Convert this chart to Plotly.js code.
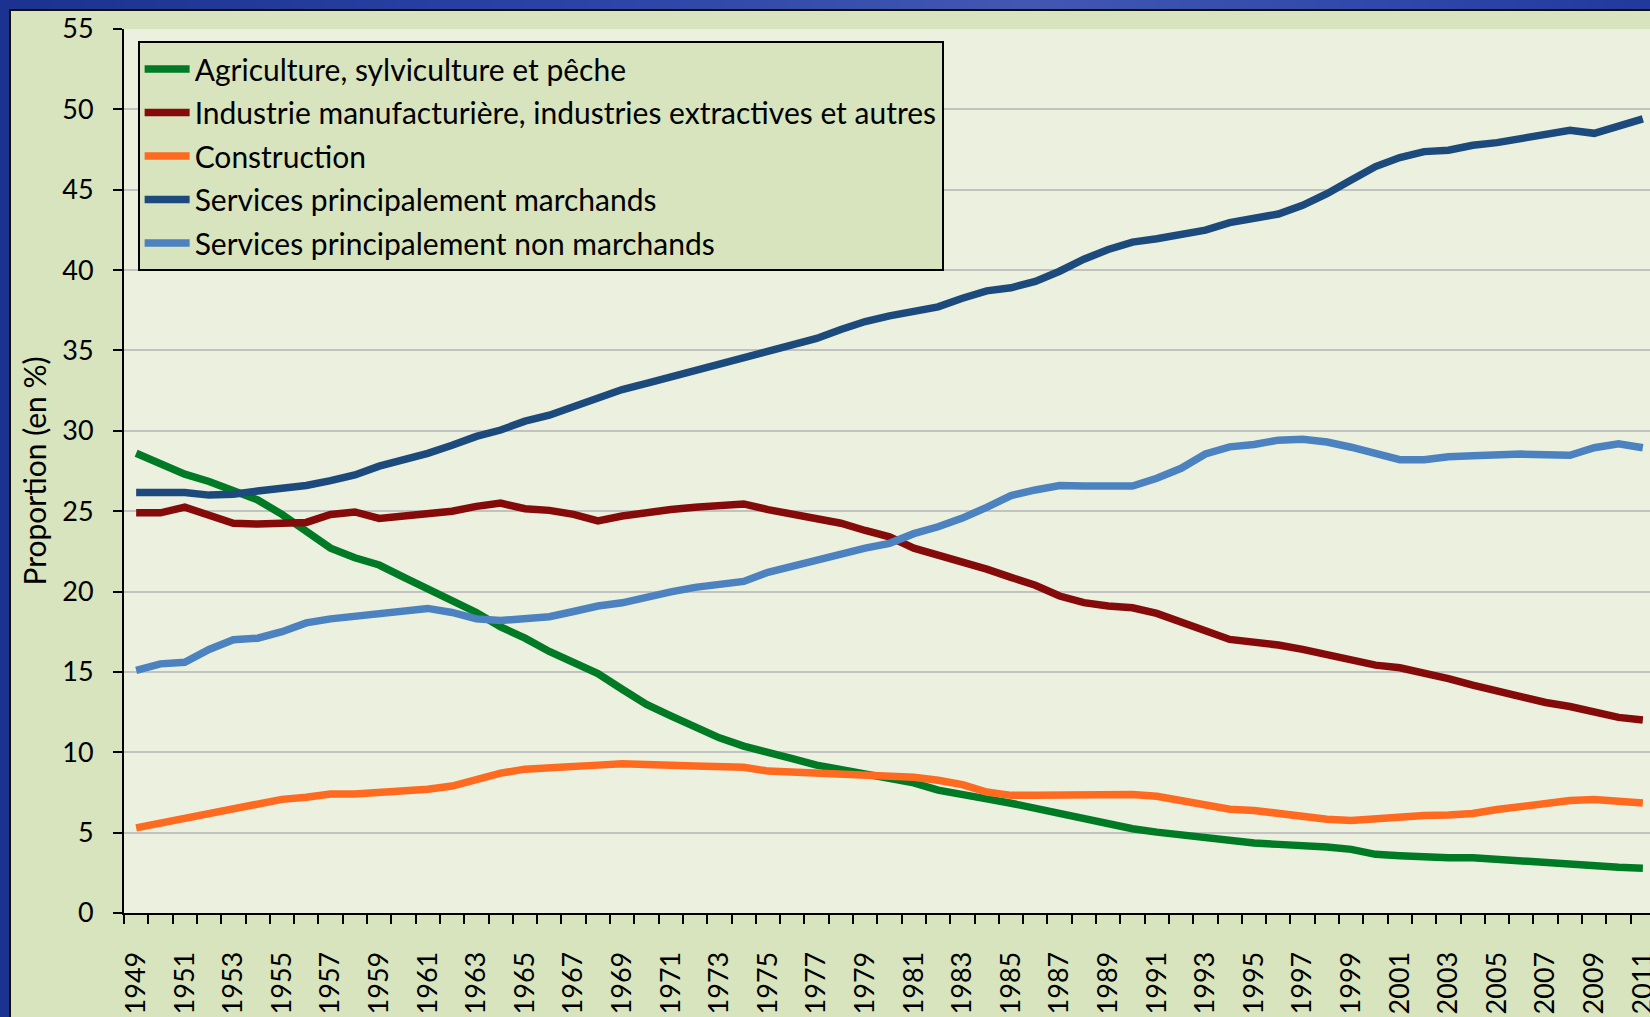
<!DOCTYPE html>
<html>
<head>
<meta charset="utf-8">
<script src="https://cdn.plot.ly/plotly-3.0.1.min.js"></script>
<style>
  html, body { margin: 0; padding: 0; width: 1650px; height: 1017px; overflow: hidden; }
  body { background: linear-gradient(90deg, #1c3290 0%, #2a43a5 35%, #4257b2 62%, #2e47a9 85%, #22399c 100%); position: relative; }
  #frame { position: absolute; left: 9px; top: 9px; border-top: 2px solid #101010; border-left: 2px solid #101010; background: #D7E4BD; width: 1660px; height: 1020px; }
  #chart { width: 1654px; height: 1006px; }
</style>
</head>
<body>
<div id="frame"><div id="chart"></div></div>
<script>
const years = [1949,1950,1951,1952,1953,1954,1955,1956,1957,1958,1959,1960,1961,1962,1963,1964,1965,1966,1967,1968,1969,1970,1971,1972,1973,1974,1975,1976,1977,1978,1979,1980,1981,1982,1983,1984,1985,1986,1987,1988,1989,1990,1991,1992,1993,1994,1995,1996,1997,1998,1999,2000,2001,2002,2003,2004,2005,2006,2007,2008,2009,2010,2011];

const tickYears = [1949,1951,1953,1955,1957,1959,1961,1963,1965,1967,1969,1971,1973,1975,1977,1979,1981,1983,1985,1987,1989,1991,1993,1995,1997,1999,2001,2003,2005,2007,2009,2011];
const tickLabels = ["1949","1951","1953","1955","1957","1959","1961","1963","1965","1967","1969","1971","1973","1975","1977","1979","1981","1983","1985","1987","1989","1991","1993","1995","1997","1999","2001","2003","2005","2007","2009","2011"];

const agriculture = [28.6,28.0,27.3,26.85,26.3,25.7,24.8,23.7,22.7,22.1,21.65,20.9,20.2,19.5,18.7,17.8,17.1,16.27,15.58,14.9,13.92,12.98,12.26,11.53,10.9,10.38,10.03,9.6,9.2,8.93,8.62,8.37,8.1,7.64,7.32,7.1,6.83,6.51,6.19,5.84,5.49,5.24,5.03,4.84,4.68,4.49,4.35,4.27,4.22,4.1,3.96,3.65,3.56,3.47,3.44,3.44,3.34,3.19,3.07,2.97,2.94,2.85,2.79];

const industrie = [24.9,24.9,25.25,24.75,24.25,24.2,24.2,24.3,24.8,24.95,24.55,24.7,24.8,25.0,25.3,25.5,25.15,25.05,24.8,24.4,24.7,24.95,25.1,25.25,25.4,25.45,25.1,24.85,24.6,24.25,23.8,23.4,22.7,22.28,21.93,21.39,20.88,20.39,19.72,19.31,19.1,18.99,18.64,18.15,17.56,17.02,16.89,16.67,16.4,16.1,15.7,15.42,15.26,14.95,14.58,14.18,13.81,13.41,13.1,12.85,12.54,12.17,12.01];

const construction = [5.3,5.6,5.85,6.2,6.45,6.8,7.07,7.2,7.4,7.4,7.5,7.55,7.7,7.9,8.3,8.7,8.95,9.07,9.14,9.2,9.28,9.28,9.2,9.14,9.14,9.07,8.83,8.76,8.72,8.57,8.5,8.5,8.45,8.26,7.99,7.53,7.32,7.32,7.32,7.37,7.4,7.37,7.26,6.97,6.64,6.46,6.38,6.19,5.97,5.84,5.76,5.88,5.98,6.07,6.1,6.19,6.44,6.66,6.84,7.0,7.06,6.9,6.84];

const servMarchands = [26.16,26.16,26.16,26.0,26.05,26.25,26.4,26.6,26.9,27.25,27.8,28.15,28.6,29.1,29.65,30.05,30.6,30.97,31.5,32.15,32.57,32.95,33.35,33.77,34.2,34.6,34.96,35.37,35.75,36.3,36.8,37.15,37.45,37.71,38.25,38.71,38.9,39.3,39.93,40.68,41.28,41.74,41.95,42.27,42.49,42.95,43.22,43.49,44.03,44.75,45.6,46.44,47.0,47.37,47.46,47.77,47.93,48.2,48.48,48.7,48.51,48.95,49.41];

const servNonMarchands = [15.1,15.5,15.6,16.4,17.0,17.1,17.5,18.05,18.3,18.45,18.6,18.8,18.95,18.7,18.3,18.2,18.3,18.43,18.76,19.1,19.3,19.67,19.98,20.26,20.43,20.63,21.2,21.6,21.9,22.3,22.7,23.0,23.6,24.03,24.57,25.24,25.97,26.32,26.6,26.56,26.56,26.56,27.05,27.67,28.56,29.0,29.15,29.42,29.47,29.3,28.98,28.58,28.2,28.2,28.39,28.45,28.55,28.55,28.51,28.48,28.95,29.2,28.95];

const seriesNames = [
  "Agriculture, sylviculture et pêche",
  "Industrie manufacturière, industries extractives et autres",
  "Construction",
  "Services principalement marchands",
  "Services principalement non marchands"
];
const seriesValues = [agriculture, industrie, construction, servMarchands, servNonMarchands];
const seriesColors = ["#007a25", "#850b0b", "#ff6a21", "#1d4a7d", "#4c82bf"];

const FONT = "Lato, 'Open Sans', sans-serif";

const traces = seriesValues.map((vals, i) => ({
  type: "scatter",
  mode: "lines",
  x: years,
  y: vals,
  name: seriesNames[i],
  legendgroup: "g" + i,
  line: { color: seriesColors[i], width: 7.5, shape: "linear" },
  hoverinfo: "skip"
}));

const layout = {
  width: 1654,
  height: 1006,
  margin: { l: 113, r: 10, t: 18, b: 104, pad: 0 },
  paper_bgcolor: "#D7E4BD",
  plot_bgcolor: "#EBF1DE",
  font: { family: FONT, color: "#000" },
  showlegend: true,
  legend: {
    x: 0.0089, y: 0.9864, xanchor: "left", yanchor: "top",
    bgcolor: "#D7E4BD", bordercolor: "#000", borderwidth: 2,
    font: { family: FONT, size: 30, color: "#000" },
    itemwidth: 45,
    tracegroupgap: 1.5,
    traceorder: "grouped"
  },
  xaxis: {
    range: [1948.5, 2011.5],
    tickmode: "array",
    tickvals: tickYears,
    ticktext: tickLabels,
    tickangle: -90,
    ticks: "outside",
    ticklen: 9,
    tickwidth: 2,
    tickcolor: "rgba(0,0,0,0)",
    ticklabelstandoff: 17,
    tickfont: { family: FONT, size: 27, color: "#000" },
    minor: { tickmode: "linear", tick0: 1948.5, dtick: 1, ticks: "outside", ticklen: 9, tickwidth: 2, tickcolor: "#000", showgrid: false },
    showline: true, linecolor: "#000", linewidth: 2,
    showgrid: false, zeroline: false, fixedrange: true
  },
  yaxis: {
    range: [0, 55],
    tickmode: "linear", tick0: 0, dtick: 5,
    ticks: "outside", ticklen: 9, tickwidth: 2, tickcolor: "#000",
    ticklabelstandoff: 14,
    tickfont: { family: FONT, size: 27, color: "#000" },
    showline: true, linecolor: "#000", linewidth: 2,
    showgrid: true, gridcolor: "#C2C2C2", gridwidth: 2,
    zeroline: false, fixedrange: true,
    title: { text: "Proportion (en %)", font: { family: FONT, size: 30, color: "#000" }, standoff: 7 }
  }
};

Plotly.newPlot("chart", traces, layout, { displayModeBar: false, staticPlot: true });
</script>
</body>
</html>
